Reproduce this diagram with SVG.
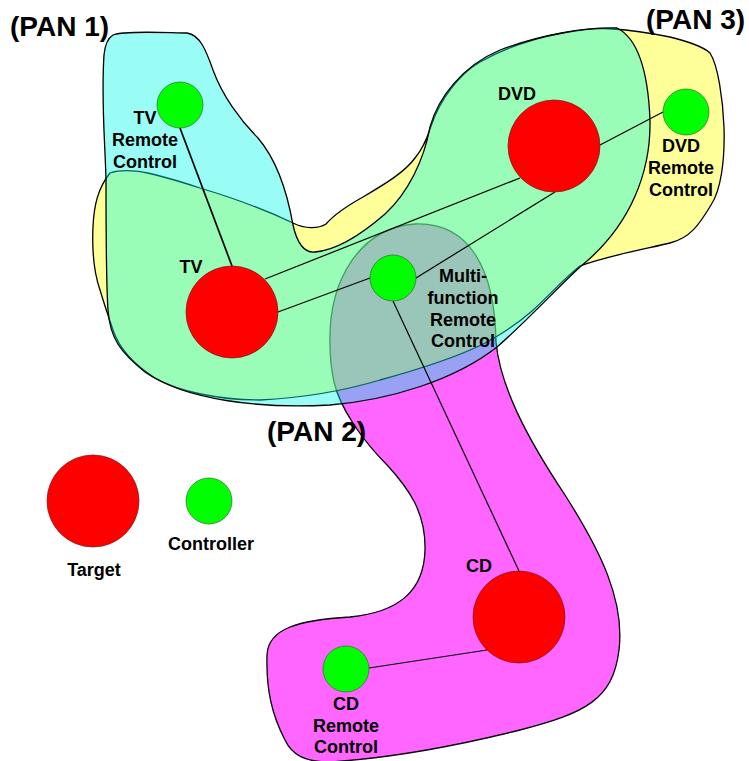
<svg xmlns="http://www.w3.org/2000/svg" width="749" height="761" viewBox="0 0 749 761">
<style>
.pan{stroke:#000;stroke-width:1.3;stroke-linejoin:round}
.tgt{fill:#ff0000;stroke:#7a1a1a;stroke-width:0.7}
.ctl{fill:#00ff00;stroke:#2a6a2a;stroke-width:0.7}
.lbl{font-family:"Liberation Sans",Arial,sans-serif;font-weight:bold;font-size:18px;fill:#000;text-anchor:middle}
.ttl{font-family:"Liberation Sans",Arial,sans-serif;font-weight:bold;font-size:28px;fill:#000}
.con{stroke:#000;stroke-width:1.2;fill:none}
</style>
<rect width="749" height="761" fill="#fff"/>
<g id="pan2">
<path class="pan" fill="#ff66ff" d="M330,345 C328,280 360,228 415,224 C470,222 495,270 496,342 C500,385 525,435 565,495 C600,550 625,600 619,650 C613,700 585,713 520,730 C460,745 390,758 330,762 C305,762 292,755 285,740 C272,715 266,690 267,655 C268,628 300,620 350,617 C400,612 424,590 425,550 C426,512 408,488 388,466 C362,440 340,408 334,382 C331,368 330,355 330,345 Z"/>
</g>
<g id="pan3">
<path class="pan" fill="#ffff00" fill-opacity="0.4" d="M110,173 C130,166 160,175 200,188 C240,200 270,212 293,223 C305,229 318,229 326,224 C333,216 345,207 363,197 C385,184 405,172 415,158 C425,146 428,135 431,126 C440,100 458,75 480,62 C505,48 535,38 563,33 C585,29 600,28 613,29 C630,30 650,33 670,37 C690,42 705,48 710,53 C718,65 723,100 724,127 C725,160 721,190 711,205 C699,225 690,238 670,243 C650,248 610,255 580,266 C562,280 548,297 532,311 C516,325 502,334 485,343 C458,357 420,369 380,380 C340,392 300,398 260,400 C220,400 180,392 155,378 C130,362 118,345 113,330 C109,318 106,310 100,290 C93,270 92,250 93,227 C94,205 98,188 110,173 Z"/>
</g>
<g id="pan1">
<path class="pan" fill="#00fae6" fill-opacity="0.4" d="M113,35 C125,30 170,33 187,33 C200,35 206,50 213,70 C222,95 240,120 258,138 C275,158 286,185 293,225 C297,243 304,253 315,252 C338,250 362,234 385,214 C408,193 424,160 430,127 C438,98 462,66 500,50 C540,35 585,27 617,28 C637,38 648,70 650,120 C651,170 632,225 580,267 C555,290 528,320 497,347 C455,380 390,400 330,405 C260,409 185,400 145,372 C120,352 110,338 108,310 C106,280 106,230 106,180 C105,140 101,100 104,55 C105,45 108,38 113,35 Z"/>
</g>
<g id="connectors">
<line class="con" x1="180" y1="128" x2="232" y2="266" style="stroke-width:1.7"/>
<line class="con" x1="265" y1="279" x2="520" y2="178"/>
<line class="con" x1="278" y1="312" x2="370" y2="278"/>
<line class="con" x1="416" y1="278" x2="555" y2="192"/>
<line class="con" x1="600" y1="145" x2="663" y2="112"/>
<line class="con" x1="393" y1="301" x2="519" y2="571"/>
<line class="con" x1="487" y1="650" x2="369" y2="668"/>
</g>
<g id="tv-remote"><circle class="ctl" cx="180" cy="105" r="23"/><text class="lbl" x="145" y="124">TV</text><text class="lbl" x="145" y="146">Remote</text><text class="lbl" x="145" y="168">Control</text></g>
<g id="tv"><circle class="tgt" cx="232" cy="312" r="46"/><text class="lbl" x="191" y="273">TV</text></g>
<g id="multi-remote"><circle class="ctl" cx="393" cy="278" r="23"/><text class="lbl" x="463" y="282">Multi-</text><text class="lbl" x="463" y="304">function</text><text class="lbl" x="463" y="326">Remote</text><text class="lbl" x="463" y="347">Control</text></g>
<g id="dvd"><circle class="tgt" cx="554" cy="146" r="46"/><text class="lbl" x="517" y="100">DVD</text></g>
<g id="dvd-remote"><circle class="ctl" cx="686" cy="112" r="23"/><text class="lbl" x="681" y="152">DVD</text><text class="lbl" x="681" y="174">Remote</text><text class="lbl" x="681" y="196">Control</text></g>
<g id="cd"><circle class="tgt" cx="519" cy="617" r="46"/><text class="lbl" x="479" y="572">CD</text></g>
<g id="cd-remote"><circle class="ctl" cx="346" cy="669" r="23"/><text class="lbl" x="346" y="710">CD</text><text class="lbl" x="346" y="732">Remote</text><text class="lbl" x="346" y="753">Control</text></g>
<g id="legend-target"><circle class="tgt" cx="93" cy="501" r="46"/><text class="lbl" x="94" y="576">Target</text></g>
<g id="legend-controller"><circle class="ctl" cx="209" cy="501" r="23"/><text class="lbl" x="211" y="550">Controller</text></g>
<g id="titles">
<text class="ttl" x="10" y="36">(PAN 1)</text>
<text class="ttl" x="646" y="29">(PAN 3)</text>
<text class="ttl" x="267" y="441">(PAN 2)</text>
</g>
</svg>
